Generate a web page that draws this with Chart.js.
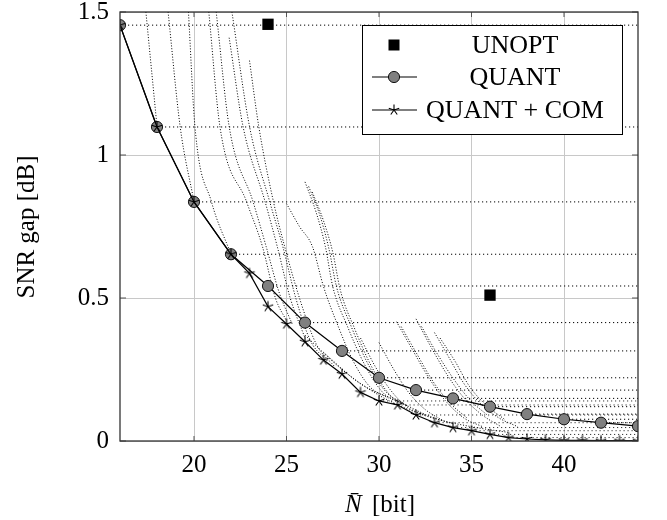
<!DOCTYPE html>
<html>
<head>
<meta charset="utf-8">
<script src="https://cdn.jsdelivr.net/npm/chart.js@4.4.1/dist/chart.umd.min.js"></script>
<style>
  body { margin: 0; background: #fff; }
  #snr-gap-chart { display: block; }
</style>
</head>
<body>
<canvas id="snr-gap-chart" width="667" height="520"></canvas>
<script>
// values
const nQuant = [16, 18, 20, 22, 24, 26, 28, 30, 32, 34, 36, 38, 40, 42, 44];
const gapQuant = [1.454, 1.098, 0.836, 0.653, 0.542, 0.414, 0.315, 0.221, 0.178, 0.149, 0.120, 0.094, 0.076, 0.064, 0.052];

const nCom = [16, 18, 20, 22, 23, 24, 25, 26, 27, 28, 29, 30, 31, 32, 33, 34, 35, 36, 37, 38, 39, 40, 41, 42, 43, 44];
const gapCom = [1.454, 1.098, 0.836, 0.653, 0.586, 0.470, 0.409, 0.347, 0.283, 0.234, 0.170, 0.140, 0.126, 0.091, 0.064, 0.047, 0.036, 0.023, 0.012, 0.007, 0.004, 0.002, 0.002, 0.001, 0.001, 0.001];

const nUnopt = [24, 36];
const gapUnopt = [1.457, 0.510];

// thin dotted curves of the single configurations, [N, gap]
const dottedCurves = [
  [[17.4, 1.5], [17.7, 1.3], [18.0, 1.1]],
  [[18.6, 1.5], [19.25, 1.1], [20.0, 0.836]],
  [[19.7, 1.5], [20.05, 1.1], [20.95, 0.835], [22.0, 0.653]],
  [[20.8, 1.5], [21.4, 1.1], [22.85, 0.835], [23.7, 0.68], [24.4, 0.5], [25.0, 0.42]],
  [[21.2, 1.5], [21.9, 1.1], [23.2, 0.835], [23.9, 0.68], [24.6, 0.52], [25.3, 0.41]],
  [[22.05, 1.5], [23.0, 1.1], [24.1, 0.835], [24.8, 0.68], [25.5, 0.5], [26.3, 0.35], [27.2, 0.28]],
  [[21.9, 1.41], [22.65, 1.1], [23.85, 0.835], [24.5, 0.68], [25.2, 0.5], [26.0, 0.36]],
  [[23.0, 1.33], [23.5, 1.1], [24.3, 0.835], [24.9, 0.68], [25.7, 0.5], [26.6, 0.34], [27.6, 0.26]],
  [[25.0, 0.83], [25.7, 0.75], [26.4, 0.68], [27.0, 0.54], [27.8, 0.4], [28.6, 0.28], [29.5, 0.19], [30.5, 0.15]],
  [[26.0, 0.906], [26.6, 0.8], [27.1, 0.68], [27.5, 0.54], [28.3, 0.4], [29.2, 0.27], [30.2, 0.17], [31.2, 0.13]],
  [[26.2, 0.89], [26.8, 0.79], [27.3, 0.67], [27.7, 0.54], [28.5, 0.4], [29.4, 0.27], [30.4, 0.17], [31.4, 0.13]],
  [[26.4, 0.87], [27.0, 0.77], [27.5, 0.66], [27.9, 0.53], [28.7, 0.39], [29.6, 0.26], [30.6, 0.16], [31.6, 0.12]],
  [[29.0, 0.36], [29.8, 0.26], [30.6, 0.18], [31.5, 0.12], [32.5, 0.09]],
  [[30.0, 0.344], [30.8, 0.25], [31.6, 0.17], [32.5, 0.11], [33.5, 0.07]],
  [[30.95, 0.417], [31.8, 0.32], [32.7, 0.22], [33.6, 0.14], [34.6, 0.08], [35.6, 0.05]],
  [[31.2, 0.40], [32.0, 0.31], [32.9, 0.21], [33.8, 0.135], [34.8, 0.078]],
  [[32.0, 0.427], [32.8, 0.33], [33.7, 0.23], [34.6, 0.15], [35.6, 0.09], [36.6, 0.05]],
  [[32.3, 0.40], [33.1, 0.31], [34.0, 0.22], [34.9, 0.145], [35.9, 0.088]],
  [[33.0, 0.379], [33.8, 0.29], [34.6, 0.2], [35.5, 0.13], [36.5, 0.08], [37.5, 0.05]],
  [[33.3, 0.36], [34.1, 0.28], [34.9, 0.19], [35.8, 0.125], [36.8, 0.075]],
  [[26.0, 0.37], [28.0, 0.25], [30.0, 0.16], [32.0, 0.10], [34.0, 0.06]],
  [[27.0, 0.31], [29.0, 0.20], [31.0, 0.14], [33.0, 0.08], [35.0, 0.05], [37.0, 0.03]]
];

const xTicks = [20, 25, 30, 35, 40];
const yTicks = [0, 0.5, 1, 1.5];
const yTickLabels = ['0', '0.5', '1', '1.5'];
const xMin = 16, xMax = 44;

const serif = '"Liberation Serif", "DejaVu Serif", serif';

// five armed star marker like the pgfplots one
function makeStar(r) {
  let c = document.createElement('canvas');
  let s = Math.ceil(r * 2 + 3);
  c.width = s;
  c.height = s;
  let g = c.getContext('2d');
  g.strokeStyle = '#000';
  g.lineWidth = 1.1;
  g.beginPath();
  for (let k = 0; k < 5; k++) {
    let a = -Math.PI / 2 + k * 2 * Math.PI / 5;
    g.moveTo(s / 2, s / 2);
    g.lineTo(s / 2 + r * Math.cos(a), s / 2 + r * Math.sin(a));
  }
  g.stroke();
  return c;
}
const starImg = makeStar(5.5);

let datasets = [];

dottedCurves.forEach(function (curve) {
  datasets.push({
    data: curve.map(p => ({ x: p[0], y: p[1] })),
    borderColor: '#000',
    borderWidth: 1,
    borderDash: [1, 1.8],
    pointRadius: 0,
    cubicInterpolationMode: 'monotone',
    order: 10
  });
});

// horizontal dotted levels from the QUANT points and lower COM points
nQuant.forEach(function (n, i) {
  datasets.push({
    data: [{ x: n, y: gapQuant[i] }, { x: xMax, y: gapQuant[i] }],
    borderColor: '#000',
    borderWidth: 1,
    borderDash: [1.2, 2.8],
    pointRadius: 0,
    order: 9
  });
});
nCom.forEach(function (n, i) {
  if (n < 30 || gapCom[i] < 0.01) return;
  datasets.push({
    data: [{ x: n, y: gapCom[i] }, { x: xMax, y: gapCom[i] }],
    borderColor: 'rgba(0,0,0,0.8)',
    borderWidth: 1,
    borderDash: [1.2, 2.8],
    pointRadius: 0,
    order: 9
  });
});

datasets.push({
  label: 'QUANT',
  data: nQuant.map((n, i) => ({ x: n, y: gapQuant[i] })),
  borderColor: '#000',
  borderWidth: 1.2,
  pointStyle: 'circle',
  pointRadius: 5.6,
  pointBackgroundColor: '#808080',
  pointBorderColor: '#000',
  pointBorderWidth: 0.9,
  tension: 0,
  order: 2
});
datasets.push({
  label: 'QUANT + COM',
  data: nCom.map((n, i) => ({ x: n, y: gapCom[i] })),
  borderColor: '#000',
  borderWidth: 1.2,
  pointStyle: starImg,
  pointRadius: 5,
  tension: 0,
  order: 1
});
datasets.push({
  label: 'UNOPT',
  data: nUnopt.map((n, i) => ({ x: n, y: gapUnopt[i] })),
  showLine: false,
  pointStyle: 'rect',
  pointRadius: 8,
  pointBackgroundColor: '#000',
  pointBorderColor: '#000',
  pointBorderWidth: 0,
  order: 0
});

const framePlugin = {
  id: 'frame',
  afterDatasetsDraw(chart) {
    let ctx = chart.ctx;
    let a = chart.chartArea;
    let xs = chart.scales.x, ys = chart.scales.y;
    ctx.save();
    ctx.strokeStyle = '#555';
    ctx.lineWidth = 1;
    ctx.beginPath();
    xTicks.forEach(function (v) {
      let px = xs.getPixelForValue(v);
      ctx.moveTo(px, a.bottom); ctx.lineTo(px, a.bottom - 5);
      ctx.moveTo(px, a.top); ctx.lineTo(px, a.top + 5);
    });
    yTicks.forEach(function (v) {
      let py = ys.getPixelForValue(v);
      ctx.moveTo(a.left, py); ctx.lineTo(a.left + 6, py);
      ctx.moveTo(a.right, py); ctx.lineTo(a.right - 6, py);
    });
    ctx.stroke();
    ctx.strokeStyle = '#333';
    ctx.lineWidth = 1.3;
    ctx.strokeRect(a.left, a.top, a.right - a.left, a.bottom - a.top);
    ctx.restore();
  },
  afterDraw(chart) {
    let ctx = chart.ctx;
    let a = chart.chartArea;
    ctx.save();

    // legend box
    let bx = 362, by = 25, bw = 260, bh = 109;
    ctx.fillStyle = '#fff';
    ctx.fillRect(bx, by, bw, bh);
    ctx.strokeStyle = '#000';
    ctx.lineWidth = 1;
    ctx.strokeRect(bx + 0.5, by + 0.5, bw, bh);

    let rows = [45, 77, 110];
    let sx = 394, textX = 515;
    ctx.fillStyle = '#000';
    ctx.fillRect(sx - 5.5, rows[0] - 5.5, 11, 11);

    ctx.lineWidth = 1.2;
    ctx.beginPath();
    ctx.moveTo(372, rows[1]); ctx.lineTo(417, rows[1]);
    ctx.moveTo(372, rows[2]); ctx.lineTo(417, rows[2]);
    ctx.stroke();
    ctx.beginPath();
    ctx.arc(sx, rows[1], 5.6, 0, Math.PI * 2);
    ctx.fillStyle = '#808080';
    ctx.fill();
    ctx.lineWidth = 0.9;
    ctx.stroke();
    ctx.drawImage(starImg, sx - starImg.width / 2, rows[2] - starImg.height / 2);

    ctx.fillStyle = '#000';
    ctx.font = '26px ' + serif;
    ctx.textAlign = 'center';
    ctx.textBaseline = 'middle';
    ctx.fillText('UNOPT', textX, rows[0] + 1);
    ctx.fillText('QUANT', textX, rows[1] + 1);
    ctx.fillText('QUANT + COM', textX, rows[2] + 1);

    // axis titles
    ctx.save();
    ctx.translate(27, 227);
    ctx.rotate(-Math.PI / 2);
    ctx.font = '25px ' + serif;
    ctx.fillText('SNR gap [dB]', 0, 0);
    ctx.restore();

    let cx = (a.left + a.right) / 2 + 1;
    ctx.textBaseline = 'alphabetic';
    ctx.textAlign = 'left';
    ctx.font = 'italic 25px ' + serif;
    let nText = 'N\u0304';
    let w1 = ctx.measureText(nText).width;
    ctx.font = '25px ' + serif;
    let rest = ' [bit]';
    let w2 = ctx.measureText(rest).width;
    let x0 = cx - (w1 + w2 + 4) / 2;
    ctx.font = 'italic 25px ' + serif;
    ctx.fillText(nText, x0, 512);
    ctx.font = '25px ' + serif;
    ctx.fillText(rest, x0 + w1 + 4, 512);

    ctx.restore();
  }
};

new Chart(document.getElementById('snr-gap-chart'), {
  type: 'line',
  data: { datasets: datasets },
  options: {
    responsive: false,
    animation: false,
    devicePixelRatio: 1,
    layout: { padding: { top: 12, right: 29, left: 0, bottom: 0 } },
    plugins: { legend: { display: false }, tooltip: { enabled: false } },
    scales: {
      x: {
        type: 'linear',
        min: xMin,
        max: xMax,
        afterBuildTicks: s => { s.ticks = xTicks.map(v => ({ value: v })); },
        afterFit: s => { s.height = 79; s.paddingLeft = 0; s.paddingRight = 0; },
        grid: { color: '#c8c8c8', lineWidth: 1, drawTicks: false },
        border: { display: false },
        ticks: {
          color: '#000',
          padding: 9,
          maxRotation: 0,
          font: { family: serif, size: 25 },
          callback: v => String(v)
        }
      },
      y: {
        type: 'linear',
        min: 0,
        max: 1.5,
        afterBuildTicks: s => { s.ticks = yTicks.map(v => ({ value: v })); },
        afterFit: s => { s.width = 120; s.paddingTop = 0; s.paddingBottom = 0; },
        grid: { color: '#c8c8c8', lineWidth: 1, drawTicks: false },
        border: { display: false },
        ticks: {
          color: '#000',
          padding: 11,
          font: { family: serif, size: 25 },
          callback: v => yTickLabels[yTicks.indexOf(v)]
        }
      }
    }
  },
  plugins: [framePlugin]
});
</script>
</body>
</html>
